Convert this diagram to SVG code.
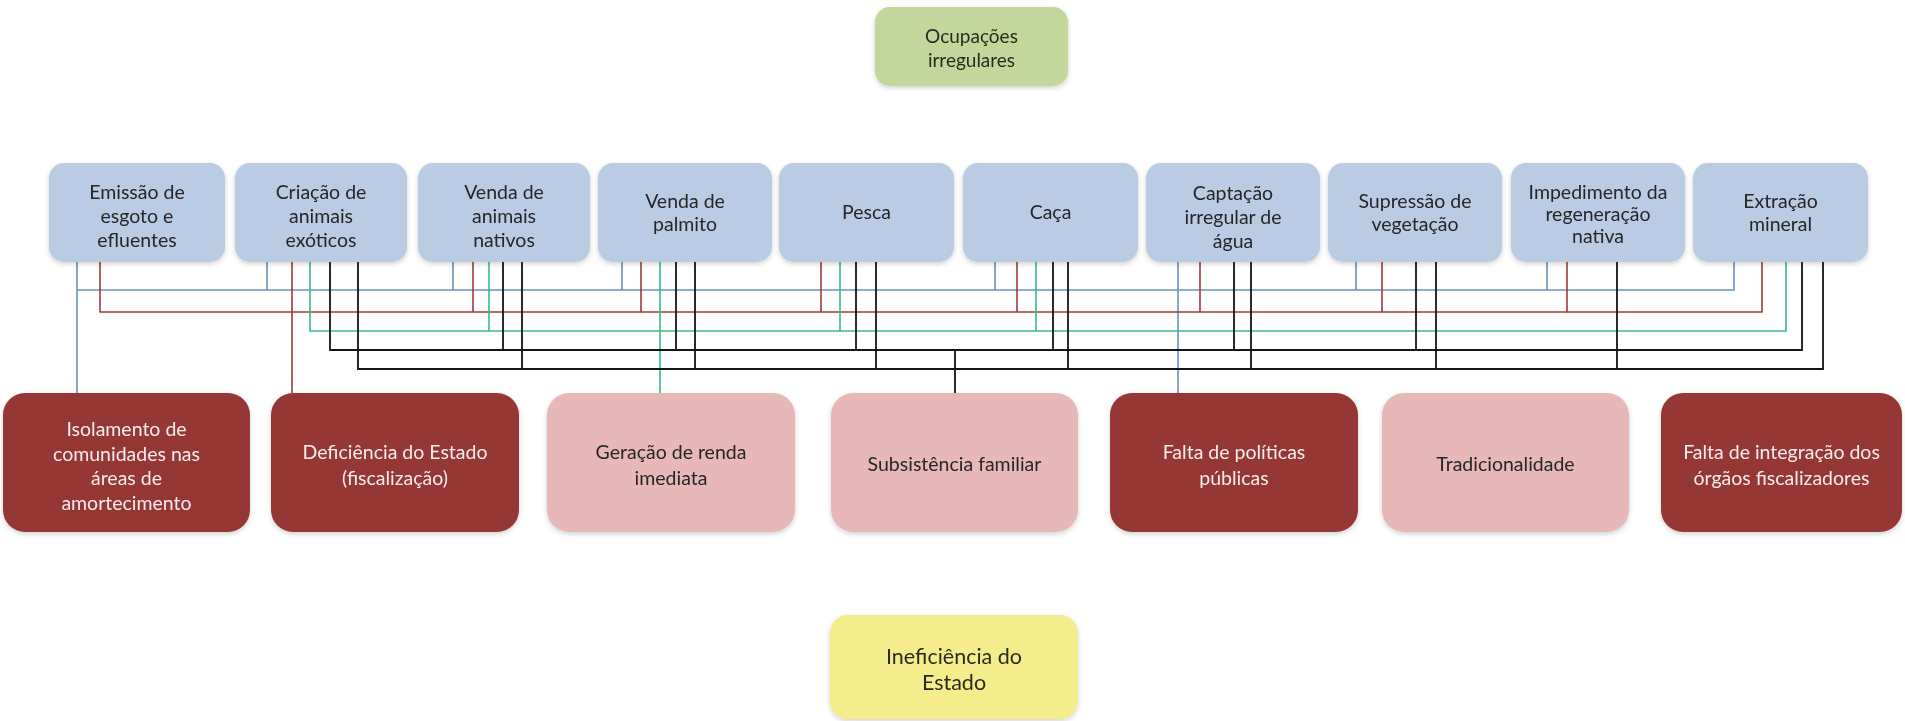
<svg xmlns="http://www.w3.org/2000/svg" width="1905" height="721" viewBox="0 0 1905 721">
<defs>
<style>
text{font-family:Lato,"Open Sans","Liberation Sans",sans-serif;text-anchor:middle;dominant-baseline:central}
.top rect{fill:#b9cce4}
.top text{font-size:19.5px;fill:#262626}
.dark rect{fill:#953735}
.dark text{font-size:19.5px;fill:#f7ecec}
.pink rect{fill:#e6b9b8}
.pink text{font-size:19.5px;fill:#262626}
.c{fill:none;stroke-width:1.6}
.cb{stroke:#6a92b8}
.cr{stroke:#a33a38}
.cg{stroke:#3dba84}
.ck{stroke:#151515;stroke-width:1.8}
</style>
<filter id="sh" x="-10%" y="-10%" width="120%" height="130%">
<feDropShadow dx="0" dy="2" stdDeviation="2.5" flood-color="#000" flood-opacity="0.18"/>
</filter>
</defs>
<rect width="1905" height="721" fill="#ffffff"/>

<g id="connectors">
<path class="c cb" d="M77 262V393 M77 290H1734V262 M267 262V290 M453 262V290 M622 262V290 M995 262V290 M1178 262V393 M1356 262V290 M1547 262V290"/>
<path class="c cr" d="M100 262V312H1762V262 M292 262V393 M473 262V312 M641 262V312 M821 262V312 M1017 262V312 M1200 262V312 M1382 262V312 M1567 262V312"/>
<path class="c cg" d="M310 262V331H1786V262 M489 262V331 M660 262V393 M840 262V331 M1036 262V331"/>
<path class="c ck" d="M330 262V350H1802V262 M503 262V350 M676 262V350 M856 262V350 M1053 262V350 M1234 262V350 M1416 262V350 M955 350V393"/>
<path class="c ck" d="M358 262V369H1823V262 M522 262V369 M695 262V369 M876 262V369 M1068 262V369 M1251 262V369 M1436 262V369 M1617 262V369"/>
</g>

<g id="ocupacoes" filter="url(#sh)">
<rect x="875" y="7" width="193" height="79" rx="15" fill="#c3d69b"/>
<text x="971.5" y="35" font-size="19" fill="#2b2b1e">Ocupações</text>
<text x="971.5" y="59" font-size="19" fill="#2b2b1e">irregulares</text>
</g>

<g id="emissao" class="top" filter="url(#sh)">
<rect x="49" y="163" width="176" height="99" rx="15"/>
<text x="137" y="191">Emissão de</text><text x="137" y="215">esgoto e</text><text x="137" y="239">efluentes</text>
</g>
<g id="criacao" class="top" filter="url(#sh)">
<rect x="235" y="163" width="172" height="99" rx="15"/>
<text x="321" y="191">Criação de</text><text x="321" y="215">animais</text><text x="321" y="239">exóticos</text>
</g>
<g id="venda-animais" class="top" filter="url(#sh)">
<rect x="418" y="163" width="172" height="99" rx="15"/>
<text x="504" y="191">Venda de</text><text x="504" y="215">animais</text><text x="504" y="239">nativos</text>
</g>
<g id="venda-palmito" class="top" filter="url(#sh)">
<rect x="598" y="163" width="174" height="99" rx="15"/>
<text x="685" y="200">Venda de</text><text x="685" y="223">palmito</text>
</g>
<g id="pesca" class="top" filter="url(#sh)">
<rect x="779" y="163" width="175" height="99" rx="15"/>
<text x="866.5" y="211">Pesca</text>
</g>
<g id="caca" class="top" filter="url(#sh)">
<rect x="963" y="163" width="175" height="99" rx="15"/>
<text x="1050.5" y="211">Caça</text>
</g>
<g id="captacao" class="top" filter="url(#sh)">
<rect x="1146" y="163" width="174" height="99" rx="15"/>
<text x="1233" y="192">Captação</text><text x="1233" y="216">irregular de</text><text x="1233" y="240">água</text>
</g>
<g id="supressao" class="top" filter="url(#sh)">
<rect x="1328" y="163" width="174" height="99" rx="15"/>
<text x="1415" y="200">Supressão de</text><text x="1415" y="223">vegetação</text>
</g>
<g id="impedimento" class="top" filter="url(#sh)">
<rect x="1511" y="163" width="174" height="99" rx="15"/>
<text x="1598" y="191" font-size="17.5">Impedimento da</text><text x="1598" y="213" font-size="17.5">regeneração</text><text x="1598" y="235" font-size="17.5">nativa</text>
</g>
<g id="extracao" class="top" filter="url(#sh)">
<rect x="1693" y="163" width="175" height="99" rx="15"/>
<text x="1780.5" y="200">Extração</text><text x="1780.5" y="223">mineral</text>
</g>

<g id="isolamento" class="dark" filter="url(#sh)">
<rect x="3" y="393" width="247" height="139" rx="22"/>
<text x="126.5" y="428">Isolamento de</text><text x="126.5" y="453">comunidades nas</text><text x="126.5" y="477">áreas de</text><text x="126.5" y="502">amortecimento</text>
</g>
<g id="deficiencia" class="dark" filter="url(#sh)">
<rect x="271" y="393" width="248" height="139" rx="22"/>
<text x="395" y="451">Deficiência do Estado</text><text x="395" y="477">(fiscalização)</text>
</g>
<g id="geracao" class="pink" filter="url(#sh)">
<rect x="547" y="393" width="248" height="139" rx="22"/>
<text x="671" y="451">Geração de renda</text><text x="671" y="477">imediata</text>
</g>
<g id="subsistencia" class="pink" filter="url(#sh)">
<rect x="831" y="393" width="247" height="139" rx="22"/>
<text x="954.5" y="463">Subsistência familiar</text>
</g>
<g id="falta-politicas" class="dark" filter="url(#sh)">
<rect x="1110" y="393" width="248" height="139" rx="22"/>
<text x="1234" y="451">Falta de políticas</text><text x="1234" y="477">públicas</text>
</g>
<g id="tradicionalidade" class="pink" filter="url(#sh)">
<rect x="1382" y="393" width="247" height="139" rx="22"/>
<text x="1505.5" y="463">Tradicionalidade</text>
</g>
<g id="falta-integracao" class="dark" filter="url(#sh)">
<rect x="1661" y="393" width="241" height="139" rx="22"/>
<text x="1781.5" y="451">Falta de integração dos</text><text x="1781.5" y="477">órgãos fiscalizadores</text>
</g>

<g id="ineficiencia" filter="url(#sh)">
<rect x="830" y="615" width="248" height="104" rx="18" fill="#f5ed8c"/>
<text x="954" y="656" font-size="21.5" fill="#2b2b1e">Ineficiência do</text>
<text x="954" y="682" font-size="21.5" fill="#2b2b1e">Estado</text>
</g>
</svg>
